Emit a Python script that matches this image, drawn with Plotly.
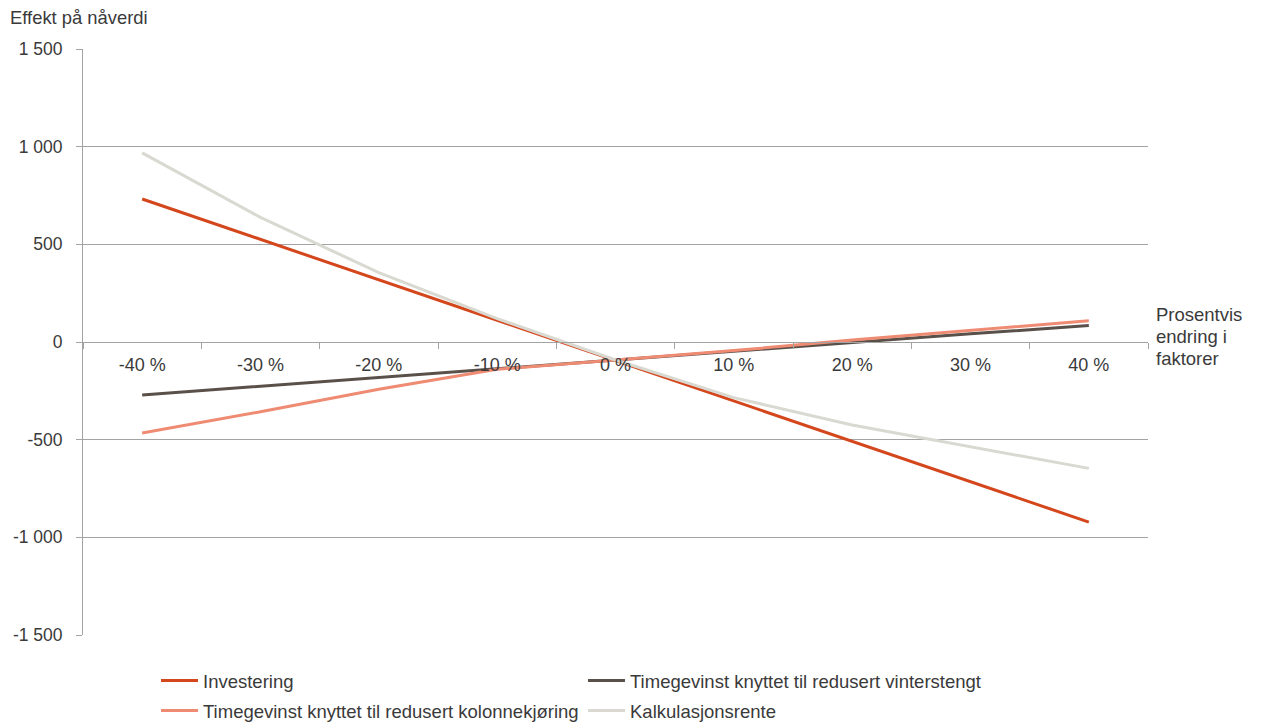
import plotly.graph_objects as go

# Endring i faktorer (kategorier langs x-aksen)
categories = ["-40 %", "-30 %", "-20 %", "-10 %", "0 %", "10 %", "20 %", "30 %", "40 %"]

# Effekt på nåverdi for hver faktor
investering = [732, 525, 318, 112, -95, -302, -509, -715, -922]
vinterstengt = [-271, -226, -182, -136, -92, -48, -3, 42, 84]
kolonnekjoring = [-466, -357, -242, -140, -92, -44, 10, 60, 109]
kalkulasjonsrente = [968, 638, 355, 120, -92, -285, -425, -536, -647]

series_names = [
    "Investering",
    "Timegevinst knyttet til redusert vinterstengt",
    "Timegevinst knyttet til redusert kolonnekjøring",
    "Kalkulasjonsrente",
]
series_colors = ["#d4461c", "#5a504a", "#ee8b72", "#d9d9d1"]

y_tickvals = [-1500, -1000, -500, 0, 500, 1000, 1500]
y_ticktext = ["-1 500", "-1 000", "-500", "0", "500", "1 000", "1 500"]

x_axis_title_lines = ["Prosentvis", "endring i", "faktorer"]

FONT = "Liberation Sans, Arial, sans-serif"
TEXT = "#3a3a3a"
GRID = "#a3a3a3"

W, H = 1261, 722
ML, MR, MT, MB = 83, 113, 49, 87
PW, PH = W - ML - MR, H - MT - MB


def px_x(x):
    return (x - ML) / PW


def px_y(y):
    return (H - MB - y) / PH


fig = go.Figure()
all_series = [investering, vinterstengt, kolonnekjoring, kalkulasjonsrente]
legend_ids = ["legend", "legend", "legend2", "legend2"]
for name, vals, color, lg in zip(series_names, all_series, series_colors, legend_ids):
    fig.add_trace(go.Scatter(
        x=categories, y=vals, name=name, mode="lines",
        line=dict(color=color, width=3),
        legend=lg,
    ))

# Legends are placed in container coordinates so they do not shrink the plot area
legend_common = dict(
    orientation="h", xanchor="left", yanchor="middle",
    xref="container", yref="container",
    font=dict(family=FONT, size=18.5, color=TEXT),
    itemwidth=37,
    entrywidth=375, entrywidthmode="pixels",
    bgcolor="rgba(0,0,0,0)", itemclick=False, itemdoubleclick=False,
)

annotations = [
    dict(
        text="Effekt på nåverdi", xref="paper", yref="paper",
        x=px_x(8), y=px_y(17), xanchor="left", yanchor="middle",
        showarrow=False, font=dict(family=FONT, size=18.4, color=TEXT),
    )
]
for i, line in enumerate(x_axis_title_lines):
    annotations.append(dict(
        text=line, xref="paper", yref="paper",
        x=px_x(1154), y=px_y(314 + 22 * i), xanchor="left", yanchor="middle",
        showarrow=False, font=dict(family=FONT, size=18.5, color=TEXT),
    ))

fig.update_layout(
    width=W, height=H,
    margin=dict(l=ML, r=MR, t=MT, b=MB, autoexpand=False),
    paper_bgcolor="white", plot_bgcolor="white",
    font=dict(family=FONT, size=17.5, color=TEXT),
    showlegend=True,
    legend=dict(x=156 / W, y=(H - 681) / H, **legend_common),
    legend2=dict(x=156 / W, y=(H - 711) / H, **legend_common),
    xaxis=dict(
        type="category", categoryorder="array", categoryarray=categories,
        range=[-0.5, len(categories) - 0.5],
        anchor="free", position=0.5,
        showline=True, linecolor=GRID, linewidth=1,
        showgrid=False, zeroline=False,
        ticks="outside", tickson="boundaries", ticklen=6, tickcolor=GRID,
        tickfont=dict(family=FONT, size=18, color=TEXT),
        ticklabelstandoff=6,
    ),
    yaxis=dict(
        range=[-1500, 1500], domain=[0, 1],
        tickvals=y_tickvals, ticktext=y_ticktext,
        showline=True, linecolor=GRID, linewidth=1,
        showgrid=True, gridcolor=GRID, gridwidth=1, zeroline=False,
        ticks="outside", ticklen=6, tickcolor=GRID,
        tickfont=dict(family=FONT, size=17.5, color=TEXT),
        ticklabelstandoff=10,
    ),
    annotations=annotations,
)

fig.write_html("out.html")
